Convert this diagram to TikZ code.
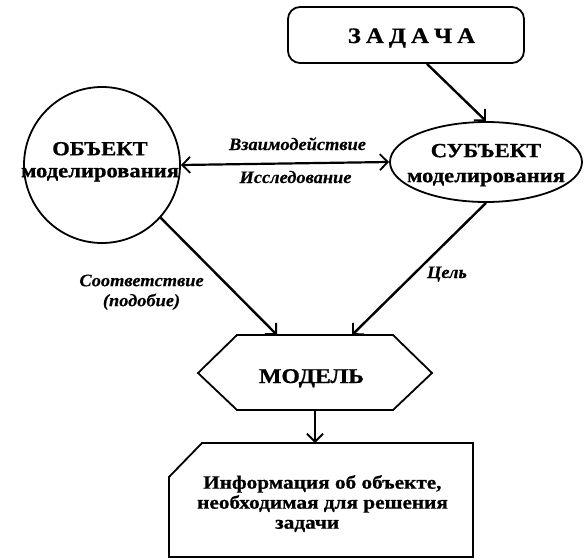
\documentclass[tikz,border=0pt]{standalone}
\usepackage{fontspec}
\setmainfont{Liberation Serif}
\newfontfamily\widebold[FakeStretch=1.13,FakeBold=0.8]{Liberation Serif Bold}
\newfontfamily\wideital[FakeStretch=1.05,FakeBold=0.3]{Liberation Serif Bold Italic}
\usetikzlibrary{arrows.meta,calc,shapes.geometric}
\tikzset{
  mybarb/.tip={Straight Barb[length=8pt,width=16pt,line width=1.8pt]},
  shape line/.style={line width=1.8pt},
  conn/.style={line width=2.4pt,-{mybarb}},
  boldtxt/.style={align=center, inner sep=0pt},
  lbl/.style={font=\wideital\fontsize{17.5}{20}\selectfont, inner sep=0pt}
}
\begin{document}
\begin{tikzpicture}[x=1pt,y=-1pt]
\useasboundingbox (0,0) rectangle (585,559);
% task
\node[draw, shape line, rounded corners=12pt, minimum width=236pt, minimum height=56pt, inner sep=0pt] (task) at (406,35) {};
\node[font=\widebold\fontsize{22}{24}\selectfont, inner sep=0pt, anchor=base] (tasktxt) at (411.5,43) {З\hspace{5pt}А\hspace{5pt}Д\hspace{5pt}А\hspace{5pt}Ч\hspace{5pt}А};
% object
\node[draw, shape line, circle, minimum size=156pt, inner sep=0pt] (obj) at (102,165) {};
\node[boldtxt, font=\widebold\fontsize{20}{22}\selectfont, anchor=north] (objtxt) at (100,141.8) {ОБЪЕКТ\\моделирования};
% subject
\node[draw, shape line, ellipse, minimum width=192pt, minimum height=80pt, inner sep=0pt] (subj) at (486,162) {};
\node[boldtxt, font=\widebold\fontsize{20}{25}\selectfont, anchor=north] (subjtxt) at (486,143.7) {СУБЪЕКТ\\моделирования};
% model hexagon
\coordinate (mtl) at (237,335);
\coordinate (mtr) at (393,335);
\coordinate (ml) at (198,373);
\coordinate (mr) at (432,373);
\coordinate (mbl) at (237,410);
\coordinate (mbr) at (393,410);
\draw[shape line] (mtl) -- (mtr) -- (mr) -- (mbr) -- (mbl) -- (ml) -- cycle;
\node[font=\widebold\fontsize{21}{22}\selectfont, inner sep=0pt, anchor=base] (model) at (311.5,383) {МОДЕЛЬ};
\coordinate (min1) at (277,335);
\coordinate (min2) at (352,335);
\coordinate (mout) at (315,410);
% info box
\coordinate (ia) at (202,443);
\coordinate (ib) at (473,443);
\coordinate (ic) at (473,557);
\coordinate (id) at (169,557);
\coordinate (ie) at (169,477);
\coordinate (iin) at (315,443);
\draw[shape line] (ia) -- (ib) -- (ic) -- (id) -- (ie) -- cycle;
\node[font=\widebold\fontsize{18.8}{20}\selectfont, align=left, inner sep=0pt, anchor=north west] (info) at (197,475)
  {\hspace*{6pt}Информация об объекте,\\необходимая для решения\\\hspace*{78pt}задачи};
% connectors
\draw[conn] ([xshift=21pt]task.south) -- (subj.north);
\draw[line width=2.2pt, {mybarb}-{mybarb}] (obj.east) -- (subj.west);
\draw[conn] (obj.-42) -- (min1);
\draw[conn] (subj.south) -- (min2);
\draw[conn, line width=1.8pt] (mout) -- (iin);
% labels
\node[lbl, anchor=base] (l1) at (297.5,150) {Взаимодействие};
\node[lbl, anchor=base] (l2) at (295.5,183) {Исследование};
\node[lbl, align=center, anchor=north] (l3) at (141.5,274.4) {Соответствие\\(подобие)};
\node[lbl, anchor=base] (l4) at (447,278) {Цель};
\end{tikzpicture}
\end{document}
